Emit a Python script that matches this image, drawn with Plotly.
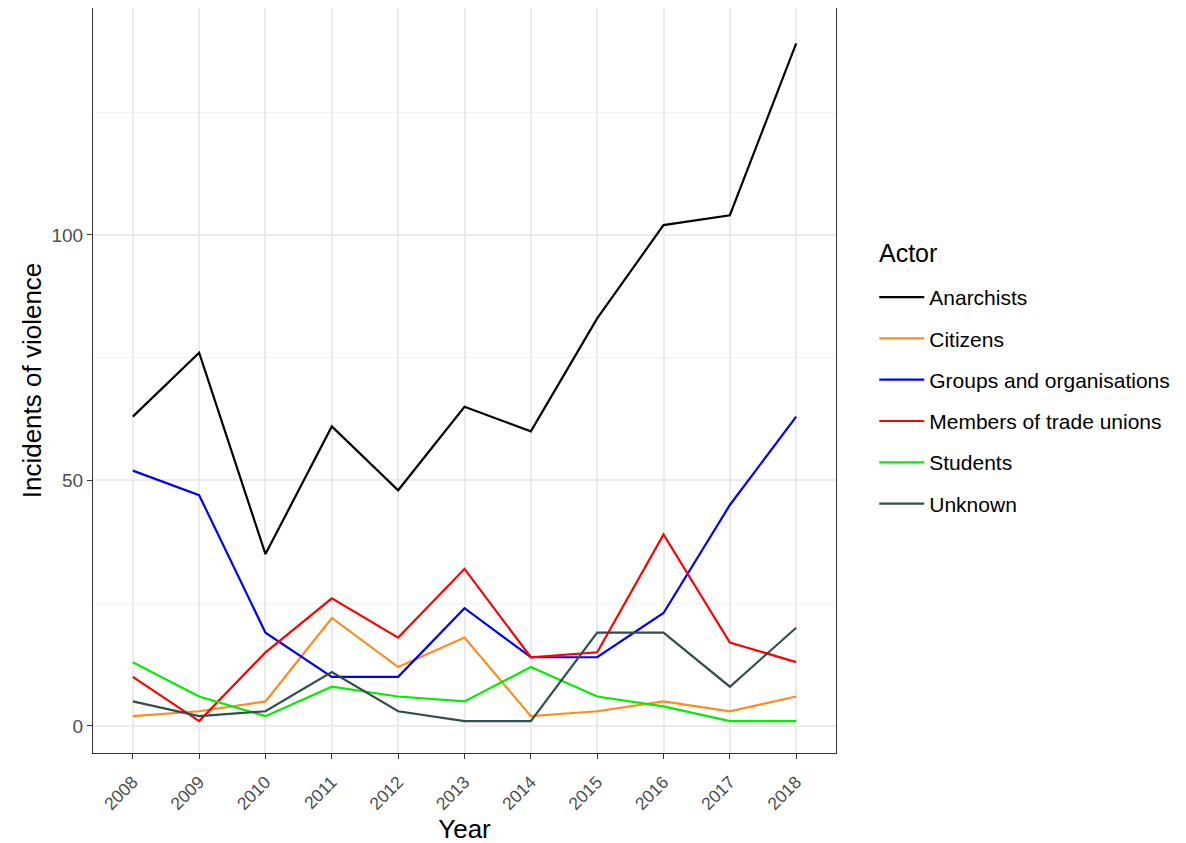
import plotly.graph_objects as go

years = [2008, 2009, 2010, 2011, 2012, 2013, 2014, 2015, 2016, 2017, 2018]
anarchists = [63, 76, 35, 61, 48, 65, 60, 83, 102, 104, 139]
citizens = [2, 3, 5, 22, 12, 18, 2, 3, 5, 3, 6]
groups = [52, 47, 19, 10, 10, 24, 14, 14, 23, 45, 63]
unions = [10, 1, 15, 26, 18, 32, 14, 15, 39, 17, 13]
students = [13, 6, 2, 8, 6, 5, 12, 6, 4, 1, 1]
unknown = [5, 2, 3, 11, 3, 1, 1, 19, 19, 8, 20]

series = [
    ("Anarchists", anarchists, "#000000"),
    ("Citizens", citizens, "#FF8C1A"),
    ("Groups and organisations", groups, "#0000FF"),
    ("Members of trade unions", unions, "#FF0000"),
    ("Students", students, "#00EE00"),
    ("Unknown", unknown, "#2F4F4F"),
]

fig = go.Figure()
for name, vals, col in series:
    fig.add_trace(go.Scatter(
        x=[str(y) for y in years], y=vals, mode="lines", name=name,
        legendgroup=name, line=dict(color=col, width=2.2),
    ))

fig.update_layout(
    width=1186, height=843,
    margin=dict(l=85, r=358, t=0, b=98),
    paper_bgcolor="white", plot_bgcolor="white",
    font=dict(family="Liberation Sans, Arial, sans-serif", color="black"),
    legend=dict(
        font=dict(size=21), x=1.0515, y=0.639, xanchor="left", yanchor="top",
        tracegroupgap=11, itemwidth=45,
    ),
    showlegend=True,
    annotations=[dict(
        text="Actor", x=1.055, y=0.671, xref="paper", yref="paper",
        xanchor="left", yanchor="middle", showarrow=False,
        font=dict(size=25, color="black"),
    )],
)
fig.update_xaxes(
    type="category", range=[-0.6, 10.6],
    showgrid=True, gridcolor="#EBEBEB", gridwidth=1.5,
    tickangle=-45, tickfont=dict(size=17.5, color="#4D4D4D"),
    ticks="outside", ticklen=5, tickcolor="#333333", ticklabelstandoff=6,
    showline=True, linecolor="#333333", linewidth=1, mirror=True,
    title=dict(text="Year", font=dict(size=26), standoff=4),
    zeroline=False,
)
fig.update_yaxes(
    range=[-5.5, 146.2], tickvals=[0, 50, 100],
    showgrid=True, gridcolor="#EBEBEB", gridwidth=1.5,
    minor=dict(tickvals=[25, 75, 125], showgrid=True, gridcolor="#F2F2F2", gridwidth=1, ticks=""),
    tickfont=dict(size=19, color="#4D4D4D"),
    ticks="outside", ticklen=5, tickcolor="#333333",
    showline=True, linecolor="#333333", linewidth=1, mirror=True,
    title=dict(text="Incidents of violence", font=dict(size=26), standoff=2),
    zeroline=False,
)

fig.write_html("out.html")
